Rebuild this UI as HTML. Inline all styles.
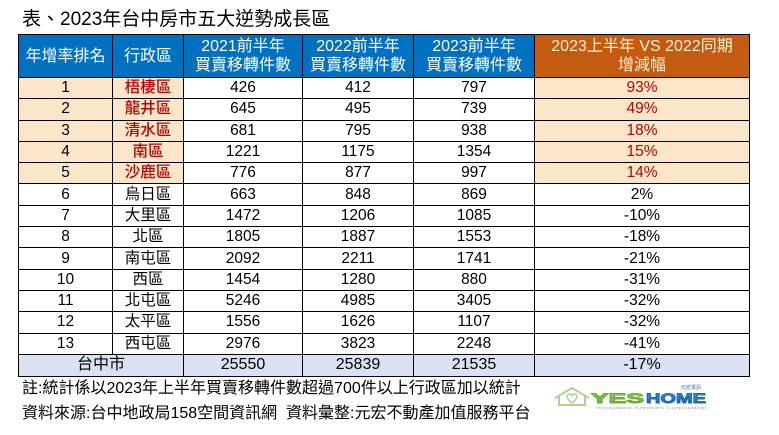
<!DOCTYPE html>
<html>
<head>
<meta charset="utf-8">
<style>
html,body{margin:0;padding:0;background:#fff;}
body{width:779px;height:435px;position:relative;overflow:hidden;font-family:"Liberation Sans","Noto Sans CJK TC",sans-serif;color:#000;}
.title{position:absolute;left:22px;top:6px;font-size:19px;line-height:28px;white-space:nowrap;color:#000;}
table{position:absolute;left:18px;top:34px;border-collapse:collapse;table-layout:fixed;width:731px;}
td,th{border:1px solid #000;padding:0;text-align:center;vertical-align:middle;font-size:15.5px;line-height:18px;white-space:nowrap;font-weight:normal;}
th{background:#0070C0;color:#fff;font-size:16px;line-height:19px;height:42px;}
th.o{background:#C55A11;color:#FFF2D9;}
tbody td{height:20.3px;}
tr.h td.b{background:#FCE6CA;}
td.r{color:#C00000;}
td.rn{color:#C00000;font-weight:500;}
tr.t td{background:#D9E1F2;height:21px;font-size:16px;}
.note{position:absolute;left:22px;font-size:16px;line-height:20px;white-space:nowrap;color:#000;}
</style>
</head>
<body>
<div class="title">表、2023年台中房市五大逆勢成長區</div>
<table>
<colgroup><col style="width:94px"><col style="width:71px"><col style="width:119px"><col style="width:111px"><col style="width:121px"><col style="width:215px"></colgroup>
<thead>
<tr><th>年增率排名</th><th>行政區</th><th>2021前半年<br>買賣移轉件數</th><th>2022前半年<br>買賣移轉件數</th><th>2023前半年<br>買賣移轉件數</th><th class="o">2023上半年 VS 2022同期<br>增減幅</th></tr>
</thead>
<tbody>
<tr class="h"><td class="b">1</td><td class="b rn">梧棲區</td><td>426</td><td>412</td><td>797</td><td class="b r">93%</td></tr>
<tr class="h"><td class="b">2</td><td class="b rn">龍井區</td><td>645</td><td>495</td><td>739</td><td class="b r">49%</td></tr>
<tr class="h"><td class="b">3</td><td class="b rn">清水區</td><td>681</td><td>795</td><td>938</td><td class="b r">18%</td></tr>
<tr class="h"><td class="b">4</td><td class="b rn">南區</td><td>1221</td><td>1175</td><td>1354</td><td class="b r">15%</td></tr>
<tr class="h"><td class="b">5</td><td class="b rn">沙鹿區</td><td>776</td><td>877</td><td>997</td><td class="b r">14%</td></tr>
<tr><td>6</td><td>烏日區</td><td>663</td><td>848</td><td>869</td><td>2%</td></tr>
<tr><td>7</td><td>大里區</td><td>1472</td><td>1206</td><td>1085</td><td>-10%</td></tr>
<tr><td>8</td><td>北區</td><td>1805</td><td>1887</td><td>1553</td><td>-18%</td></tr>
<tr><td>9</td><td>南屯區</td><td>2092</td><td>2211</td><td>1741</td><td>-21%</td></tr>
<tr><td>10</td><td>西區</td><td>1454</td><td>1280</td><td>880</td><td>-31%</td></tr>
<tr><td>11</td><td>北屯區</td><td>5246</td><td>4985</td><td>3405</td><td>-32%</td></tr>
<tr><td>12</td><td>太平區</td><td>1556</td><td>1626</td><td>1107</td><td>-32%</td></tr>
<tr><td>13</td><td>西屯區</td><td>2976</td><td>3823</td><td>2248</td><td>-41%</td></tr>
<tr class="t"><td colspan="2">台中市</td><td>25550</td><td>25839</td><td>21535</td><td>-17%</td></tr>
</tbody>
</table>
<div class="note" style="top:379px;">註:統計係以2023年上半年買賣移轉件數超過700件以上行政區加以統計</div>
<div class="note" style="top:404px;">資料來源:台中地政局158空間資訊網&nbsp;&nbsp;資料彙整:元宏不動產加值服務平台</div>
<svg style="position:absolute;left:550px;top:376px;" width="170" height="44" viewBox="0 0 170 44">
<defs>
<linearGradient id="g" x1="0" y1="0" x2="0" y2="1"><stop offset="0" stop-color="#b5dc6e"/><stop offset="1" stop-color="#5fa52a"/></linearGradient>
<linearGradient id="b" x1="0" y1="0" x2="0" y2="1"><stop offset="0" stop-color="#4a9be0"/><stop offset="1" stop-color="#1a5fa8"/></linearGradient>
</defs>
<path d="M5 22 L22 12 L39 22 M9 20 L9 29 L35 29 L35 20" fill="none" stroke="#b3cf98" stroke-width="2"/>
<path d="M22 27 C17 23 16 20 18 18.5 C19.5 17.5 21 18 22 19.5 C23 18 24.5 17.5 26 18.5 C28 20 27 23 22 27 Z" fill="none" stroke="#b3cf98" stroke-width="1.6"/>
<text x="41" y="27" font-family="Liberation Sans, sans-serif" font-weight="bold" font-size="14" textLength="53" lengthAdjust="spacingAndGlyphs" fill="url(#g)" stroke="#6aaa2e" stroke-width="0.9">YES</text>
<text x="96" y="27" font-family="Liberation Sans, sans-serif" font-weight="bold" font-size="14" textLength="60" lengthAdjust="spacingAndGlyphs" fill="url(#b)" stroke="#1f66b0" stroke-width="0.9">HOME</text>
<text x="131" y="13" font-family="Liberation Sans, Noto Sans CJK TC, sans-serif" font-size="5" fill="#2a6fb8">元宏資訊</text>
<text x="46" y="33" font-family="Liberation Sans, sans-serif" font-size="3.8" textLength="111" lengthAdjust="spacingAndGlyphs" fill="#aaa">Innovation Services Corporation</text>
</svg>
</body>
</html>
